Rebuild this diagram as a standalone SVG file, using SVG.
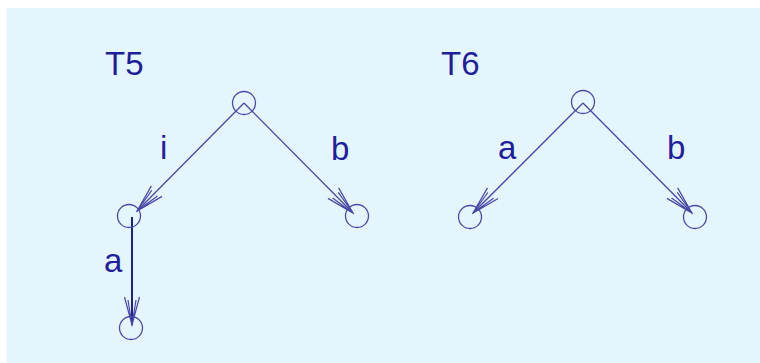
<svg xmlns="http://www.w3.org/2000/svg" width="760" height="363" viewBox="0 0 760 363">
<style>
.lbl{font-family:"Liberation Sans",Arial,sans-serif;font-size:33px;fill:#1f1f9c}
.node{fill:none;stroke:#4a4aa6;stroke-width:1.3}
.edge{fill:none;stroke:#4848a4;stroke-width:1.3}
.edge2{fill:none;stroke:#1e1e9c;stroke-width:2}
</style>
<defs>
<marker id="arr" markerUnits="userSpaceOnUse" viewBox="-30 -10 32 20" refX="0" refY="0" markerWidth="32" markerHeight="20" orient="auto">
<path d="M-28,-7.5 L0,0 L-28,7.5 M-25,-4 L0,0 L-25,4" fill="none" stroke="#4848a4" stroke-width="1.2"/>
</marker>
</defs>
<rect x="7" y="8" width="753" height="355" fill="#e5f5fe"/>
<text class="lbl" x="105" y="75">T5</text>
<text class="lbl" x="441" y="75">T6</text>
<g id="connectors">
<line class="edge" x1="244" y1="103" x2="137" y2="211" marker-end="url(#arr)"/>
<line class="edge" x1="244" y1="103" x2="353" y2="213" marker-end="url(#arr)"/>
<line class="edge2" x1="132" y1="217" x2="132" y2="325" marker-end="url(#arr)"/>
<line class="edge" x1="583" y1="103" x2="473" y2="213" marker-end="url(#arr)"/>
<line class="edge" x1="583" y1="103" x2="692" y2="213" marker-end="url(#arr)"/>
<text class="lbl" x="160" y="159">i</text>
<text class="lbl" x="331" y="160">b</text>
<text class="lbl" x="104" y="272">a</text>
<text class="lbl" x="498" y="159">a</text>
<text class="lbl" x="667" y="159">b</text>
</g>
<g id="t5_root"><circle class="node" cx="244" cy="103" r="11.5"/></g>
<g id="t5_left"><circle class="node" cx="129" cy="216" r="11.5"/></g>
<g id="t5_right"><circle class="node" cx="357" cy="216" r="11.5"/></g>
<g id="t5_bottom"><circle class="node" cx="131" cy="328" r="11.5"/></g>
<g id="t6_root"><circle class="node" cx="583" cy="102" r="11.5"/></g>
<g id="t6_left"><circle class="node" cx="470" cy="217" r="11.5"/></g>
<g id="t6_right"><circle class="node" cx="695" cy="217" r="11.5"/></g>
</svg>
